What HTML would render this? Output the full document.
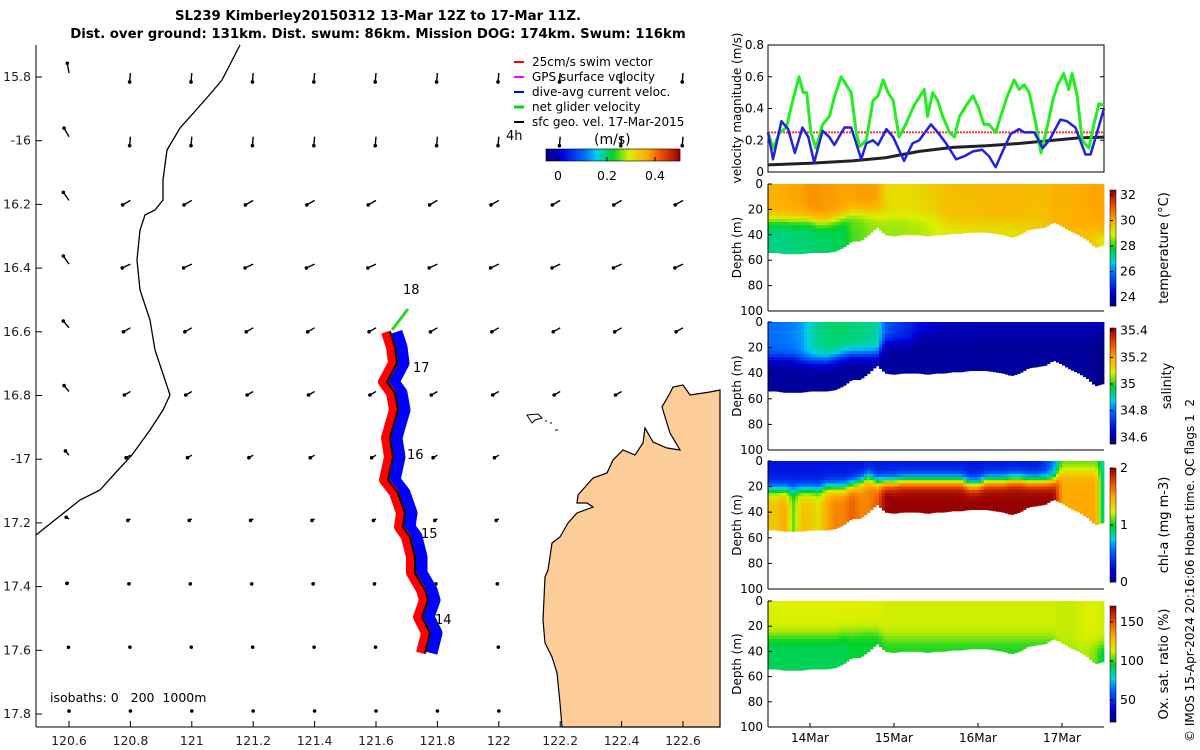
<!DOCTYPE html>
<html><head><meta charset="utf-8"><style>
html,body{margin:0;padding:0;background:#fff;}
svg{display:block;font-family:"DejaVu Sans","Liberation Sans",sans-serif;}
</style></head><body>
<svg id="root" width="1200" height="750" viewBox="0 0 1200 750" xmlns="http://www.w3.org/2000/svg">
<text x="378" y="20" text-anchor="middle" font-size="13.3" font-weight="bold">SL239 Kimberley20150312 13-Mar 12Z to 17-Mar 11Z.</text>
<text x="378" y="38" text-anchor="middle" font-size="13.3" font-weight="bold">Dist. over ground: 131km. Dist. swum: 86km. Mission DOG: 174km. Swum: 116km</text>
<g id="map">
<polygon fill="#fccd98" stroke="#000" stroke-width="1.2" points="720,390 710,392 690,395 683,385 673,387 670,393 662,407 670,433 680,450 667,448 653,442 645,428 643,443 635,455 623,450 613,460 607,473 593,478 578,495 577,503 587,503 593,507 577,513 568,523 560,537 552,543 548,570 545,577 543,620 545,643 552,657 557,673 560,703 562,727 720,727"/>
<path fill="none" stroke="#000" stroke-width="1.3" d="M240,45 L222,80 L205,100 L180,128 L167,150 L163,180 L163,200 L155,210 L145,215 L140,230 L137,260 L140,290 L150,320 L155,350 L165,380 L170,395 L163,410 L150,430 L132,455 L118,470 L100,490 L80,500 L36,535"/>
<path fill="none" stroke="#000" stroke-width="1" d="M527,415 L538,414 L542,418 L535,420 L532,423 Z M545,421 l2,0 M550,423 l2,0 M555,430 l3,0"/>
<g id="arrows"></g>
<g id="track"></g>
<line x1="36" y1="45" x2="36" y2="727" stroke="#000" stroke-width="1"/>
<line x1="36" y1="727" x2="720" y2="727" stroke="#000" stroke-width="1"/>
<g id="mapticks" font-size="12.5" fill="#222"></g>
<text x="50" y="702" font-size="12.5" xml:space="preserve">isobaths: 0   200  1000m</text>
<g font-size="12">
<line x1="514" y1="62" x2="524" y2="62" stroke="#f00" stroke-width="2"/><text x="532" y="66">25cm/s swim vector</text>
<line x1="514" y1="77" x2="524" y2="77" stroke="#f0f" stroke-width="2"/><text x="532" y="81">GPS surface velocity</text>
<line x1="514" y1="92" x2="524" y2="92" stroke="#00f" stroke-width="2"/><text x="532" y="96">dive-avg current veloc.</text>
<line x1="514" y1="107" x2="524" y2="107" stroke="#0d0" stroke-width="3"/><text x="532" y="111">net glider velocity</text>
<line x1="514" y1="122" x2="524" y2="122" stroke="#000" stroke-width="2"/><text x="532" y="126">sfc geo. vel. 17-Mar-2015</text>
<text x="506" y="140" font-size="13">4h</text>
<text x="594" y="144" font-size="14">(m/s)</text>
</g>
<g id="mapcbar"></g>
</g>
<g id="vel"></g>
<g id="sections"></g>
<text transform="translate(1194,742) rotate(-90)" font-size="12" xml:space="preserve">© IMOS 15-Apr-2024 20:16:06 Hobart time. QC flags 1  2</text>
</svg>
<script>
// ===== velocity chart data =====
const greenT=[13.50,13.56,13.64,13.72,13.78,13.87,13.92,13.96,14.01,14.07,14.15,14.23,14.29,14.37,14.43,14.49,14.55,14.59,14.67,14.75,14.81,14.87,14.93,14.99,15.06,15.14,15.24,15.36,15.40,15.46,15.52,15.58,15.66,15.72,15.78,15.86,15.94,16.01,16.07,16.13,16.21,16.27,16.35,16.43,16.49,16.55,16.61,16.69,16.75,16.83,16.89,16.95,17.02,17.08,17.12,17.18,17.24,17.32,17.38,17.44,17.50];
const greenV=[0.25,0.15,0.25,0.28,0.42,0.6,0.5,0.5,0.25,0.15,0.3,0.35,0.47,0.6,0.55,0.5,0.25,0.16,0.2,0.45,0.48,0.58,0.5,0.45,0.22,0.3,0.42,0.52,0.35,0.5,0.45,0.35,0.25,0.22,0.35,0.42,0.48,0.4,0.3,0.3,0.25,0.35,0.48,0.58,0.52,0.55,0.5,0.3,0.12,0.3,0.45,0.55,0.62,0.52,0.62,0.48,0.2,0.15,0.3,0.43,0.42];
const blueT=[13.50,13.56,13.66,13.74,13.82,13.91,13.98,14.05,14.15,14.23,14.29,14.41,14.49,14.61,14.67,14.75,14.81,14.91,14.99,15.12,15.22,15.30,15.44,15.52,15.62,15.74,15.84,15.94,16.05,16.13,16.21,16.31,16.39,16.49,16.55,16.67,16.77,16.85,16.98,17.06,17.16,17.28,17.34,17.50];
const blueV=[0.25,0.08,0.32,0.27,0.12,0.28,0.22,0.06,0.26,0.22,0.17,0.28,0.28,0.08,0.18,0.2,0.17,0.27,0.22,0.07,0.18,0.2,0.3,0.25,0.18,0.08,0.1,0.13,0.14,0.1,0.03,0.15,0.24,0.27,0.25,0.25,0.15,0.2,0.33,0.32,0.28,0.11,0.11,0.4];
const blackT=[13.5,14.0,14.5,14.9,15.3,15.7,16.1,16.5,16.9,17.2,17.5];
const blackV=[0.045,0.055,0.07,0.09,0.13,0.155,0.165,0.18,0.2,0.215,0.22];
const swimV=0.25;
const velTicks=[0,0.2,0.4,0.6,0.8];
const dayTicks=[14,15,16,17];
const dayLabels=["14Mar","15Mar","16Mar","17Mar"];
// ===== section data (t = 13.5..17.5 step 0.1) =====
const secT=[13.5,13.6,13.7,13.8,13.9,14.0,14.1,14.2,14.3,14.4,14.5,14.6,14.7,14.8,14.9,15.0,15.1,15.2,15.3,15.4,15.5,15.6,15.7,15.8,15.9,16.0,16.1,16.2,16.3,16.4,16.5,16.6,16.7,16.8,16.9,17.0,17.1,17.2,17.3,17.4,17.5];
const bottomDepth=[54,54,55,55,55,54,54,54,53,50,45,45,40,34,40,41,40,40,40,41,40,40,39,39,38,38,38,39,40,42,40,36,35,34,30,33,37,40,44,50,48];
const tempUpper=[30.0,30.0,30.1,30.2,30.2,30.4,30.4,30.3,30.3,30.2,30.2,30.3,30.3,30.2,29.4,29.3,29.3,29.3,29.4,29.5,29.6,29.7,29.8,29.8,29.8,29.8,29.9,29.9,29.9,29.9,29.9,29.8,29.8,29.8,30.0,30.0,30.0,30.1,30.1,30.2,30.2];
const tempLower=[27.3,27.3,27.3,27.4,27.4,27.4,27.5,27.5,27.6,27.6,28.2,28.3,28.5,28.6,28.6,28.6,28.6,28.7,28.7,28.8,28.9,29.0,29.1,29.1,29.2,29.2,29.2,29.2,29.2,29.2,29.3,29.4,29.5,29.6,29.8,29.8,29.8,29.8,29.7,29.5,28.8];
const tempMld=[28,28,28,28,28,28,30,30,28,26,22,22,22,22,25,25,25,25,25,25,25,30,30,30,30,30,30,30,30,30,30,30,30,30,35,35,35,35,35,35,40];
const salUpper=[34.80,34.80,34.81,34.82,34.84,34.90,34.93,34.94,34.95,34.95,34.94,34.94,34.93,34.92,34.78,34.74,34.72,34.7,34.67,34.65,34.64,34.62,34.62,34.62,34.62,34.61,34.61,34.61,34.61,34.61,34.61,34.61,34.61,34.61,34.61,34.61,34.61,34.61,34.61,34.61,34.61];
const salLower=[34.58,34.58,34.58,34.58,34.58,34.58,34.58,34.58,34.58,34.58,34.58,34.58,34.58,34.58,34.58,34.58,34.58,34.58,34.58,34.58,34.58,34.58,34.58,34.58,34.58,34.58,34.58,34.58,34.58,34.58,34.58,34.58,34.58,34.58,34.58,34.58,34.58,34.58,34.58,34.57,34.55];
const salMld=[28,28,28,28,30,30,30,30,28,26,25,25,25,25,15,15,15,15,10,10,10,10,10,10,10,10,10,10,10,10,10,10,10,10,10,10,10,10,10,10,10];
const chlUpper=[0.3,0.3,0.3,0.3,0.3,0.3,0.3,0.3,0.3,0.3,0.3,0.3,0.3,0.3,0.3,0.3,0.3,0.3,0.3,0.3,0.3,0.3,0.3,0.3,0.3,0.3,0.3,0.3,0.3,0.3,0.3,0.3,0.3,0.4,0.6,1.1,1.1,1.1,1.1,1.1,0.8];
const chlLower=[1.4,1.4,1.5,1.1,1.4,1.4,1.3,1.5,1.6,1.6,1.7,1.6,1.6,1.7,2,2,2,2,2,2,2,2,2,2,2,2,2,2,2,2,2,2,2,2,2,1.5,1.5,1.5,1.5,1.5,0.8];
const chlMld=[22,22,22,22,22,22,22,20,20,20,18,16,12,16,16,16,15,15,15,15,15,15,15,15,18,18,15,15,15,14,14,15,15,15,15,8,8,8,8,8,8];
const oxUpper=[114,114,114,114,114,114,114,114,114,114,114,114,114,114,113,113,113,113,113,113,113,113,113,113,113,113,113,113,113,113,113,113,113,113,113,112,112,113,114,114,113];
const oxLower=[92,92,92,92,92,92,92,92,92,92,95,95,95,95,98,98,98,98,98,98,98,98,98,98,98,98,98,98,98,98,98,98,98,98,98,108,108,110,110,105,90];
const oxMld=[28,28,28,28,28,28,28,28,28,26,26,25,25,25,30,30,30,30,30,30,30,30,30,30,30,30,30,30,30,30,30,30,30,30,30,35,35,35,35,35,35];
const depthTicks=[0,20,40,60,80,100];
// ===== map data =====
const lonTicks=[120.6,120.8,121,121.2,121.4,121.6,121.8,122,122.2,122.4,122.6];
const lonLabels=["120.6","120.8","121","121.2","121.4","121.6","121.8","122","122.2","122.4","122.6"];
const latTicks=[-15.8,-16,-16.2,-16.4,-16.6,-16.8,-17,-17.2,-17.4,-17.6,-17.8];
const latLabels=["15.8","-16","16.2","16.4","16.6","16.8","-17","17.2","17.4","17.6","17.8"];
const rowAng=[95,95,150,155,150,150,150,150,140,120,90];
const rowLen=[9,9,9,9,8,7,5,3,2,1,1];
const col0Ang=[-100,-120,-125,-125,-130,-130,-130,-150,160,120,90];

const NS="http://www.w3.org/2000/svg";
function el(tag,attrs,parent){const e=document.createElementNS(NS,tag);for(const k in attrs)e.setAttribute(k,attrs[k]);parent.appendChild(e);return e;}
function jet(f){f=Math.max(0,Math.min(1,f));
 const stops=[[0,0,0,130],[0.12,0,0,220],[0.3,0,120,255],[0.38,0,210,230],[0.5,0,210,40],[0.62,220,240,0],[0.75,255,170,0],[0.88,230,70,0],[1,150,0,0]];
 for(let i=1;i<stops.length;i++){if(f<=stops[i][0]){const a=stops[i-1],b=stops[i];const u=(f-a[0])/(b[0]-a[0]);
 return `rgb(${Math.round(a[1]+(b[1]-a[1])*u)},${Math.round(a[2]+(b[2]-a[2])*u)},${Math.round(a[3]+(b[3]-a[3])*u)})`;}}return 'rgb(150,0,0)';}
function interp(T,V,t){if(t<=T[0])return V[0];for(let i=1;i<T.length;i++){if(t<=T[i]){const u=(t-T[i-1])/(T[i]-T[i-1]);return V[i-1]+(V[i]-V[i-1])*u;}}return V[V.length-1];}

// ===== map =====
const lonX=l=>69+(l-120.6)*307;
const latY=l=>77+(l+15.8)*(-318.5);
const mt=document.getElementById('mapticks');
lonTicks.forEach((l,i)=>{const x=lonX(l);
 const tk=el('line',{x1:x,y1:727,x2:x,y2:721,stroke:'#000'},mt);
 
 
 const t=el('text',{x:x,y:745,'text-anchor':'middle'},mt);t.textContent=lonLabels[i];
 
 });
latTicks.forEach((l,i)=>{const y=latY(l);
 const tk=el('line',{x1:36,y1:y,x2:42,y2:y,stroke:'#000'},mt);
 
 
 const t=el('text',{x:31,y:y+4,'text-anchor':'end'},mt);t.textContent=latLabels[i];
 
 });
const ag=document.getElementById('arrows');
latTicks.forEach((la,r)=>{lonTicks.forEach((lo,c)=>{
 const x=lonX(lo),y=latY(la)-4;if(x>540&&y>440)return;if(x>650&&y>380)return;
 const ang=(c===0?col0Ang[r]:rowAng[r])*Math.PI/180;const L=rowLen[r]*(c===0?1.1:1);
 const x2=x+Math.cos(ang)*L,y2=y+Math.sin(ang)*L;
 const a=el('line',{x1:x,y1:y,x2:x2,y2:y2,stroke:'#000','stroke-width':1.4},ag);
 
 
 const d=el('circle',{cx:x2,cy:y2,r:1.8,fill:'#000'},ag);
 
 });});
const tg=document.getElementById('track');
const trackPts=[[390,332],[395,347],[397,363],[387,382],[395,393],[398,410],[393,427],[390,438],[393,457],[388,480],[398,493],[405,513],[403,527],[410,537],[415,557],[415,573],[425,590],[428,600],[422,617],[430,633],[425,653]];
const ps=o=>trackPts.map(p=>(p[0]+o)+','+p[1]).join(' ');
let p=el('polyline',{points:ps(6),fill:'none',stroke:'#00f','stroke-width':13,'stroke-linejoin':'round'},tg);


p=el('polyline',{points:ps(-4),fill:'none',stroke:'#f00','stroke-width':10,'stroke-linejoin':'round'},tg);


p=el('polyline',{points:ps(0),fill:'none',stroke:'#000','stroke-width':2},tg);


p=el('line',{x1:392,y1:330,x2:408,y2:309,stroke:'#2d2','stroke-width':3},tg);


[["18",403,294],["17",413,372],["16",407,459],["15",421,538],["14",435,624]].forEach(d=>{
 const t=el('text',{x:d[1],y:d[2],'font-size':13},tg);t.textContent=d[0];
 
 });
const cb=document.getElementById('mapcbar');
for(let i=0;i<134;i++){el('rect',{x:546+i,y:149,width:1.2,height:12,fill:jet(i/133)},cb);}
el('rect',{x:546,y:149,width:134,height:12,fill:'none',stroke:'#000','stroke-width':0.6},cb);
[[0,558],[0.2,607],[0.4,655]].forEach(d=>{el('line',{x1:d[1],y1:161,x2:d[1],y2:157,stroke:'#000'},cb);
 const t=el('text',{x:d[1],y:180,'text-anchor':'middle','font-size':12.5},cb);t.textContent=d[0];
 
 });

// ===== velocity chart =====
const X0=768,X1=1104;
const tx=t=>X0+(t-13.5)*(X1-X0)/4;
const vg=document.getElementById('vel');
const vy=v=>172-v*(127/0.8);
el('rect',{x:X0,y:45,width:X1-X0,height:127,fill:'#fff',stroke:'#000','stroke-width':1},vg);
velTicks.forEach(v=>{const y=vy(v);el('line',{x1:X0,y1:y,x2:X0+4,y2:y,stroke:'#000'},vg);el('line',{x1:X1,y1:y,x2:X1-4,y2:y,stroke:'#000'},vg);
 const t=el('text',{x:X0-4,y:y+4,'text-anchor':'end','font-size':12},vg);t.textContent=v===0?'0':v.toString();
 
 });
const vl=el('text',{transform:`translate(741,108) rotate(-90)`,'text-anchor':'middle','font-size':12},vg);vl.textContent='velocity magnitude (m/s)';


let sw=el('line',{x1:X0,y1:vy(swimV),x2:X1,y2:vy(swimV),stroke:'#f33','stroke-width':2,'stroke-dasharray':'2,1'},vg);


function series(T,V,col,w,name){const s=el('polyline',{points:T.map((t,i)=>tx(t)+','+vy(V[i])).join(' '),fill:'none',stroke:col,'stroke-width':w,'stroke-linejoin':'round'},vg);
 
 }
series(blackT,blackV,'#222',3,'geostrophic-velocity-line');
series(greenT,greenV,'#2e2',3,'net-glider-velocity-line');
series(blueT,blueV,'#22d',2.5,'dive-avg-current-line');

// ===== sections =====
const sg=document.getElementById('sections');
const panels=[
 {top:184,bot:311,U:tempUpper,L:tempLower,M:tempMld,vmin:23.3,vmax:32.4,cbt:190,cbb:306,ticks:[24,26,28,30,32],title:'temperature (°C)',name:'temperature'},
 {top:322,bot:450,U:salUpper,L:salLower,M:salMld,vmin:34.55,vmax:35.42,cbt:328,cbb:444,ticks:[34.6,34.8,35,35.2,35.4],title:'salinity',name:'salinity'},
 {top:461,bot:589,U:chlUpper,L:chlLower,M:chlMld,vmin:0,vmax:2,cbt:468,cbb:582,ticks:[0,1,2],title:'chl-a (mg m-3)',name:'chlorophyll'},
 {top:601,bot:727,U:oxUpper,L:oxLower,M:oxMld,vmin:21.8,vmax:170.5,cbt:606,cbb:722,ticks:[50,100,150],title:'Ox. sat. ratio (%)',name:'oxygen'}];
const NSUB=112, DSTEP=2.5;
panels.forEach(P=>{
 const g=el('g',{},sg);
 
 
 const dy=d=>P.top+d*(P.bot-P.top)/100;
 const w=(X1-X0)/NSUB;
 for(let k=0;k<NSUB;k++){const t=13.5+(k+0.5)*4/NSUB;const x=X0+k*w;
  const bd=interp(secT,bottomDepth,t),U=interp(secT,P.U,t),L=interp(secT,P.L,t),M=interp(secT,P.M,t);
  for(let d=0;d<bd;d+=DSTEP){const h=Math.min(DSTEP,bd-d);
   const s=1/(1+Math.exp(-(M-d-1)/3));const v=L+(U-L)*s;
   el('rect',{x:x,y:dy(d),width:w+0.4,height:(P.bot-P.top)*h/100+0.4,fill:jet((v-P.vmin)/(P.vmax-P.vmin))},g);}}
 el('line',{x1:X0,y1:P.top,x2:X0,y2:P.bot,stroke:'#000'},g);
 el('line',{x1:X0,y1:P.bot,x2:X1,y2:P.bot,stroke:'#000'},g);
 depthTicks.forEach(d=>{const y=dy(d);el('line',{x1:X0,y1:y,x2:X0+4,y2:y,stroke:'#000'},g);
  const t=el('text',{x:X0-5,y:y+4,'text-anchor':'end','font-size':12},g);t.textContent=d;
  
  });
 const dl=el('text',{transform:`translate(741,${(P.top+P.bot)/2}) rotate(-90)`,'text-anchor':'middle','font-size':12},g);dl.textContent='Depth (m)';
 
 
 for(let y=P.cbt;y<P.cbb;y++){el('rect',{x:1110,y:y,width:6,height:1.3,fill:jet((P.cbb-y)/(P.cbb-P.cbt))},g);}
 el('rect',{x:1110,y:P.cbt,width:6,height:P.cbb-P.cbt,fill:'none',stroke:'#000','stroke-width':0.5},g);
 P.ticks.forEach(v=>{const y=P.cbb-(v-P.vmin)/(P.vmax-P.vmin)*(P.cbb-P.cbt);
  el('line',{x1:1110,y1:y,x2:1113,y2:y,stroke:'#000'},g);
  const t=el('text',{x:1120,y:y+4,'font-size':12.5},g);t.textContent=v;
  
  });
 const ct=el('text',{transform:`translate(${P.name==='salinity'?1171:1168},${(P.cbt+P.cbb)/2}) rotate(-90)`,'text-anchor':'middle','font-size':13},g);ct.textContent=P.title;
 
 
});
dayTicks.forEach((d,i)=>{const x=tx(d);el('line',{x1:x,y1:727,x2:x,y2:723,stroke:'#000'},sg);
 const t=el('text',{x:x,y:742,'text-anchor':'middle','font-size':12},sg);t.textContent=dayLabels[i];
 
 });
</script>
</body></html>
